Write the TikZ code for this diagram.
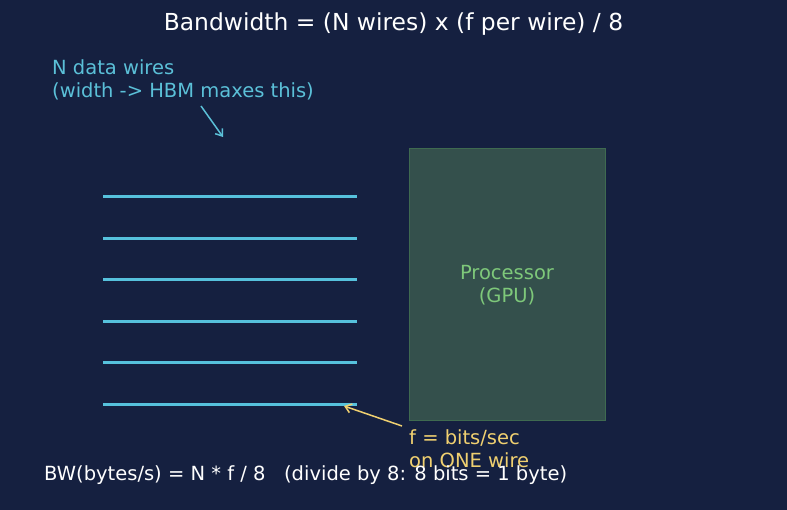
\documentclass[tikz,border=0pt]{standalone}
\usepackage{fontspec}
\setmainfont{DejaVu Sans}
\usetikzlibrary{arrows.meta}
\definecolor{bg}{HTML}{152040}
\definecolor{wire}{HTML}{56C1DC}
\definecolor{cyantext}{HTML}{5BC0D8}
\definecolor{boxfill}{HTML}{34504C}
\definecolor{boxline}{HTML}{3F6A50}
\definecolor{greentext}{HTML}{7EC87A}
\definecolor{yel}{HTML}{F0D070}
\tikzset{
  wireline/.style={wire, line width=3pt},
  lbl/.style={inner sep=0pt, font=\fontsize{19.5}{23}\selectfont, align=left},
  arr/.style={line width=1.5pt, -{Straight Barb[length=6pt,width=9pt]}},
}
\begin{document}
\begin{tikzpicture}[x=1pt,y=-1pt]
\fill[bg] (0,0) rectangle (787,510);
\useasboundingbox (0,0) rectangle (787,510);
\node[inner sep=0pt, white, font=\fontsize{23.4}{28}\selectfont] (title) at (393.5,24) {Bandwidth = (N wires) x (f per wire) / 8};
\node[lbl, cyantext, anchor=west] (nlab) at (52,79.5) {N data wires\\(width -> HBM maxes this)};
\coordinate (na) at (201,106);
\coordinate (nb) at (223,137);
\draw[cyantext, arr] (na) -- (nb);
\foreach \i/\y in {1/197,2/238.5,3/280,4/321.5,5/363,6/404.5} {
  \coordinate (w\i a) at (103,\y);
  \coordinate (w\i b) at (357,\y);
  \draw[wireline] (w\i a) -- (w\i b);
}
\node[draw=boxline, fill=boxfill, line width=1pt, minimum width=196pt, minimum height=271pt, inner sep=0pt] (gpu) at (507,284.5) {};
\node[lbl, greentext, align=center] (gpulab) at (507,285) {Processor\\(GPU)};
\node[lbl, yel, anchor=west] (flab) at (409,449) {f = bits/sec\\on ONE wire};
\coordinate (fa) at (402,426);
\coordinate (ftip) at (344,406);
\draw[yel, arr] (fa) -- (ftip);
\node[lbl, white, anchor=west] (bw) at (44,475) {BW(bytes/s) = N * f / 8 \ \ (divide by 8: 8 bits = 1 byte)};
\end{tikzpicture}
\end{document}
